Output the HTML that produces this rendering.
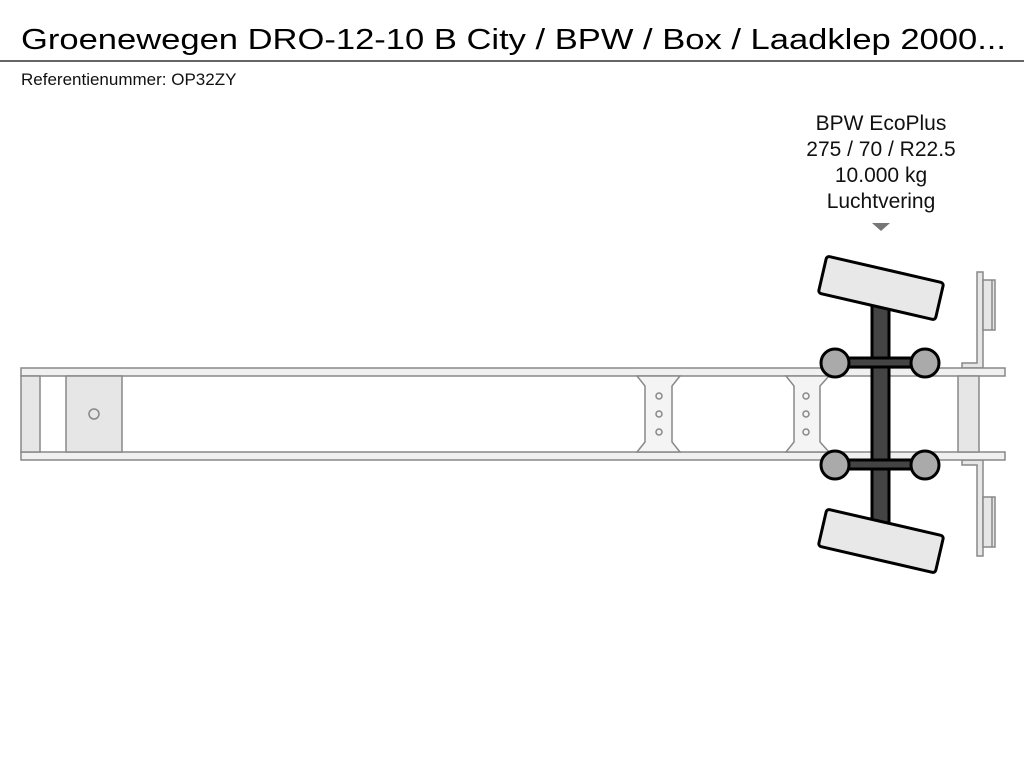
<!DOCTYPE html>
<html><head><meta charset="utf-8"><style>
html,body{margin:0;padding:0;background:#fff;}
svg{display:block;font-family:"Liberation Sans",Arial,sans-serif;}
</style></head><body>
<svg width="1024" height="768" viewBox="0 0 1024 768" xmlns="http://www.w3.org/2000/svg">
<text x="21" y="49" font-size="29" fill="#000" textLength="985" lengthAdjust="spacingAndGlyphs">Groenewegen DRO-12-10 B City / BPW / Box / Laadklep 2000...</text>
<line x1="0" y1="61" x2="1024" y2="61" stroke="#333" stroke-width="1.5"/>
<text x="21" y="85" font-size="17" fill="#111">Referentienummer: OP32ZY</text>
<g font-size="21" fill="#111" text-anchor="middle">
<text x="881" y="130">BPW EcoPlus</text>
<text x="881" y="156">275 / 70 / R22.5</text>
<text x="881" y="182">10.000 kg</text>
<text x="881" y="208">Luchtvering</text>
</g>
<polygon points="872,223 890,223 881,231" fill="#777"/>
<g stroke="#888" stroke-width="1.5" fill="#f0f0f0">
<path d="M977,272 H983 V368 H962 V363 H977 Z" fill="#e6e6e6"/>
<rect x="983" y="280" width="12" height="50" fill="#e6e6e6"/>
<line x1="992" y1="280" x2="992" y2="330"/>
<path d="M977,556 H983 V460 H962 V465 H977 Z" fill="#e6e6e6"/>
<rect x="983" y="497" width="12" height="50" fill="#e6e6e6"/>
<line x1="992" y1="497" x2="992" y2="547"/>
<rect x="21" y="368" width="984" height="8"/>
<rect x="21" y="452" width="984" height="8"/>
<rect x="21" y="376" width="19" height="76" fill="#e6e6e6"/>
<rect x="66" y="376" width="56" height="76" fill="#e6e6e6"/>
<circle cx="94" cy="414" r="5" fill="none"/>
<rect x="958" y="376" width="21" height="76" fill="#e6e6e6"/>
<path d="M637,376 H680 L672,386 V442 L680,452 H637 L645,442 V386 Z" fill="#f4f4f4"/>
<path d="M786,376 H829 L820,386 V442 L829,452 H786 L794,442 V386 Z" fill="#f4f4f4"/>
<g fill="none">
<circle cx="659" cy="396" r="3"/><circle cx="659" cy="414" r="3"/><circle cx="659" cy="432" r="3"/>
<circle cx="806" cy="396" r="3"/><circle cx="806" cy="414" r="3"/><circle cx="806" cy="432" r="3"/>
</g>
</g>
<g stroke="#000" stroke-width="3">
<rect x="872" y="300" width="17" height="226" fill="#444"/>
<rect x="835" y="358" width="90" height="9" fill="#444"/>
<rect x="835" y="460" width="90" height="9" fill="#444"/>
<circle cx="835" cy="363" r="14" fill="#aaa"/>
<circle cx="925" cy="363" r="14" fill="#aaa"/>
<circle cx="835" cy="465" r="14" fill="#aaa"/>
<circle cx="925" cy="465" r="14" fill="#aaa"/>
<rect x="821" y="269" width="120" height="38" rx="3" fill="#e8e8e8" transform="rotate(13 881 288)"/>
<rect x="821" y="522" width="120" height="38" rx="3" fill="#e8e8e8" transform="rotate(13 881 541)"/>
</g>
</svg>
</body></html>
